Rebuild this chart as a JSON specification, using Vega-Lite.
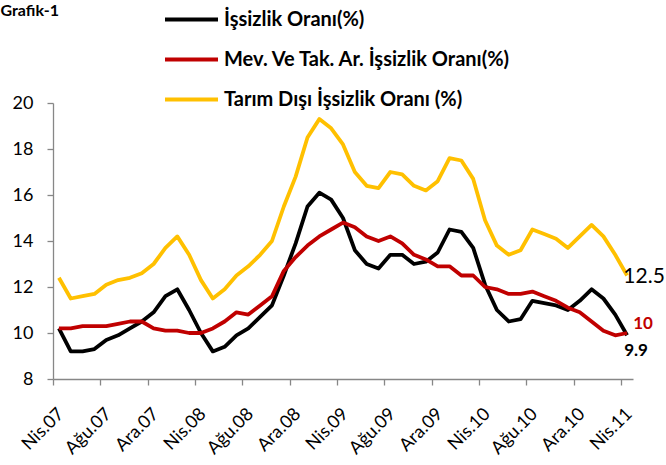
{
  "$schema": "https://vega.github.io/schema/vega-lite/v6.json",
  "autosize": {"type": "none"},
  "width": 580,
  "height": 276,
  "padding": {"left": 53, "top": 103, "right": 33, "bottom": 86},
  "background": "white",
  "config": {
    "font": "Lato",
    "view": {"stroke": null}
  },
  "data": {
    "values": [
      {"ay": "Nis.07", "issizlik": 10.2, "mevsim": 10.2, "tarimdisi": 12.4},
      {"ay": "May.07", "issizlik": 9.2, "mevsim": 10.2, "tarimdisi": 11.5},
      {"ay": "Haz.07", "issizlik": 9.2, "mevsim": 10.3, "tarimdisi": 11.6},
      {"ay": "Tem.07", "issizlik": 9.3, "mevsim": 10.3, "tarimdisi": 11.7},
      {"ay": "Ağu.07", "issizlik": 9.7, "mevsim": 10.3, "tarimdisi": 12.1},
      {"ay": "Eyl.07", "issizlik": 9.9, "mevsim": 10.4, "tarimdisi": 12.3},
      {"ay": "Eki.07", "issizlik": 10.2, "mevsim": 10.5, "tarimdisi": 12.4},
      {"ay": "Kas.07", "issizlik": 10.5, "mevsim": 10.5, "tarimdisi": 12.6},
      {"ay": "Ara.07", "issizlik": 10.9, "mevsim": 10.2, "tarimdisi": 13.0},
      {"ay": "Oca.08", "issizlik": 11.6, "mevsim": 10.1, "tarimdisi": 13.7},
      {"ay": "Şub.08", "issizlik": 11.9, "mevsim": 10.1, "tarimdisi": 14.2},
      {"ay": "Mar.08", "issizlik": 11.0, "mevsim": 10.0, "tarimdisi": 13.4},
      {"ay": "Nis.08", "issizlik": 10.0, "mevsim": 10.0, "tarimdisi": 12.3},
      {"ay": "May.08", "issizlik": 9.2, "mevsim": 10.2, "tarimdisi": 11.5},
      {"ay": "Haz.08", "issizlik": 9.4, "mevsim": 10.5, "tarimdisi": 11.9},
      {"ay": "Tem.08", "issizlik": 9.9, "mevsim": 10.9, "tarimdisi": 12.5},
      {"ay": "Ağu.08", "issizlik": 10.2, "mevsim": 10.8, "tarimdisi": 12.9},
      {"ay": "Eyl.08", "issizlik": 10.7, "mevsim": 11.2, "tarimdisi": 13.4},
      {"ay": "Eki.08", "issizlik": 11.2, "mevsim": 11.6, "tarimdisi": 14.0},
      {"ay": "Kas.08", "issizlik": 12.5, "mevsim": 12.7, "tarimdisi": 15.5},
      {"ay": "Ara.08", "issizlik": 13.9, "mevsim": 13.3, "tarimdisi": 16.8},
      {"ay": "Oca.09", "issizlik": 15.5, "mevsim": 13.8, "tarimdisi": 18.5},
      {"ay": "Şub.09", "issizlik": 16.1, "mevsim": 14.2, "tarimdisi": 19.3},
      {"ay": "Mar.09", "issizlik": 15.8, "mevsim": 14.5, "tarimdisi": 18.9},
      {"ay": "Nis.09", "issizlik": 15.0, "mevsim": 14.8, "tarimdisi": 18.2},
      {"ay": "May.09", "issizlik": 13.6, "mevsim": 14.6, "tarimdisi": 17.0},
      {"ay": "Haz.09", "issizlik": 13.0, "mevsim": 14.2, "tarimdisi": 16.4},
      {"ay": "Tem.09", "issizlik": 12.8, "mevsim": 14.0, "tarimdisi": 16.3},
      {"ay": "Ağu.09", "issizlik": 13.4, "mevsim": 14.2, "tarimdisi": 17.0},
      {"ay": "Eyl.09", "issizlik": 13.4, "mevsim": 13.9, "tarimdisi": 16.9},
      {"ay": "Eki.09", "issizlik": 13.0, "mevsim": 13.4, "tarimdisi": 16.4},
      {"ay": "Kas.09", "issizlik": 13.1, "mevsim": 13.2, "tarimdisi": 16.2},
      {"ay": "Ara.09", "issizlik": 13.5, "mevsim": 12.9, "tarimdisi": 16.6},
      {"ay": "Oca.10", "issizlik": 14.5, "mevsim": 12.9, "tarimdisi": 17.6},
      {"ay": "Şub.10", "issizlik": 14.4, "mevsim": 12.5, "tarimdisi": 17.5},
      {"ay": "Mar.10", "issizlik": 13.7, "mevsim": 12.5, "tarimdisi": 16.7},
      {"ay": "Nis.10", "issizlik": 12.1, "mevsim": 12.0, "tarimdisi": 14.9},
      {"ay": "May.10", "issizlik": 11.0, "mevsim": 11.9, "tarimdisi": 13.8},
      {"ay": "Haz.10", "issizlik": 10.5, "mevsim": 11.7, "tarimdisi": 13.4},
      {"ay": "Tem.10", "issizlik": 10.6, "mevsim": 11.7, "tarimdisi": 13.6},
      {"ay": "Ağu.10", "issizlik": 11.4, "mevsim": 11.8, "tarimdisi": 14.5},
      {"ay": "Eyl.10", "issizlik": 11.3, "mevsim": 11.6, "tarimdisi": 14.3},
      {"ay": "Eki.10", "issizlik": 11.2, "mevsim": 11.4, "tarimdisi": 14.1},
      {"ay": "Kas.10", "issizlik": 11.0, "mevsim": 11.1, "tarimdisi": 13.7},
      {"ay": "Ara.10", "issizlik": 11.4, "mevsim": 10.9, "tarimdisi": 14.2},
      {"ay": "Oca.11", "issizlik": 11.9, "mevsim": 10.5, "tarimdisi": 14.7},
      {"ay": "Şub.11", "issizlik": 11.5, "mevsim": 10.1, "tarimdisi": 14.2},
      {"ay": "Mar.11", "issizlik": 10.8, "mevsim": 9.9, "tarimdisi": 13.4},
      {"ay": "Nis.11", "issizlik": 9.9, "mevsim": 10.0, "tarimdisi": 12.5}
    ]
  },
  "encoding": {
    "x": {
      "field": "ay",
      "type": "ordinal",
      "sort": null,
      "scale": {"type": "point", "padding": 0.5},
      "axis": {
        "title": null,
        "values": ["Nis.07", "Ağu.07", "Ara.07", "Nis.08", "Ağu.08", "Ara.08", "Nis.09", "Ağu.09", "Ara.09", "Nis.10", "Ağu.10", "Ara.10", "Nis.11"],
        "labelAngle": -45,
        "labelAlign": "right",
        "labelBaseline": "middle",
        "labelPadding": 26,
        "tickOffset": -6,
        "labelOffset": 8,
        "labelFontSize": 18,
        "labelColor": "#000000",
        "domainColor": "#878787",
        "domainWidth": 1.3,
        "tickColor": "#878787",
        "tickWidth": 1.3,
        "tickSize": 6,
        "grid": false
      }
    }
  },
  "layer": [
    {
      "transform": [{"fold": ["issizlik", "mevsim", "tarimdisi"], "as": ["seri", "deger"]}],
      "mark": {"type": "line", "strokeWidth": 3.8, "strokeJoin": "round", "strokeCap": "butt"},
      "encoding": {
        "y": {
          "field": "deger",
          "type": "quantitative",
          "scale": {"domain": [8, 20], "nice": false, "zero": false},
          "axis": {
            "title": "Grafik-1",
            "titleAngle": 0,
            "titleAlign": "left",
            "titleBaseline": "alphabetic",
            "titleX": -53,
            "titleY": -88,
            "titleFontSize": 16,
            "titleFontWeight": "bold",
            "titleColor": "#000000",
            "values": [8, 10, 12, 14, 16, 18, 20],
            "labelFontSize": 18,
            "labelColor": "#000000",
            "labelPadding": 14,
            "domainColor": "#878787",
            "domainWidth": 1.3,
            "tickColor": "#878787",
            "tickWidth": 1.3,
            "tickSize": 6,
            "grid": false
          }
        },
        "color": {
          "field": "seri",
          "type": "nominal",
          "scale": {"domain": ["issizlik", "mevsim", "tarimdisi"], "range": ["#000000", "#C00000", "#FFC000"]},
          "legend": {
            "orient": "none",
            "legendX": 110,
            "legendY": -112,
            "title": null,
            "padding": 0,
            "symbolType": "stroke",
            "symbolSize": 2809,
            "symbolStrokeWidth": 4,
            "labelFontSize": 20,
            "labelFontWeight": "bold",
            "labelColor": "#000000",
            "labelOffset": 4,
            "labelLimit": 500,
            "rowPadding": 1,
            "labelExpr": "datum.value == 'issizlik' ? 'İşsizlik Oranı(%)' : datum.value == 'mevsim' ? 'Mev. Ve Tak. Ar. İşsizlik Oranı(%)' : 'Tarım Dışı İşsizlik Oranı (%)'"
          }
        }
      }
    },
    {
      "transform": [{"filter": "datum.ay == 'Nis.11'"}],
      "mark": {"type": "text", "fontSize": 21, "color": "#000000", "dx": 17, "dy": 1, "align": "center", "baseline": "middle"},
      "encoding": {
        "y": {"field": "tarimdisi", "type": "quantitative"},
        "text": {"field": "tarimdisi", "type": "nominal"}
      }
    },
    {
      "transform": [{"filter": "datum.ay == 'Nis.11'"}],
      "mark": {"type": "text", "fontSize": 17, "fontWeight": "bold", "color": "#C00000", "dx": 16, "dy": -9, "align": "center", "baseline": "middle"},
      "encoding": {
        "y": {"field": "mevsim", "type": "quantitative"},
        "text": {"field": "mevsim", "type": "nominal"}
      }
    },
    {
      "transform": [{"filter": "datum.ay == 'Nis.11'"}],
      "mark": {"type": "text", "fontSize": 17, "fontWeight": "bold", "color": "#000000", "dx": 9, "dy": 16, "align": "center", "baseline": "middle"},
      "encoding": {
        "y": {"field": "issizlik", "type": "quantitative"},
        "text": {"field": "issizlik", "type": "nominal"}
      }
    }
  ]
}
